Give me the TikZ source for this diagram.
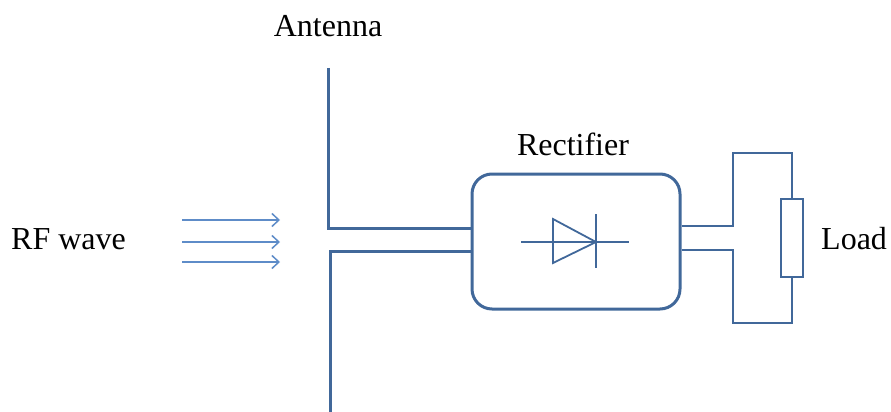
\documentclass[tikz,border=0pt]{standalone}
\usepackage{fontspec}
\setmainfont{Liberation Serif}
\usetikzlibrary{arrows.meta}
\definecolor{wire}{HTML}{41689A}
\definecolor{wave}{HTML}{5E8CC8}
\begin{document}
\begin{tikzpicture}[x=1pt,y=-1pt,
  lbl/.style={font=\fontsize{32}{38}\selectfont, inner sep=0pt},
  thick wire/.style={draw=wire, line width=3pt},
  thin wire/.style={draw=wire, line width=2.2pt},
  diodeline/.style={draw=wire, line width=1.8pt},
  wavearrow/.style={draw=wave, line width=1.5pt, -{Straight Barb[length=7pt,width=13pt,line width=1.5pt]}}]
\useasboundingbox (0,0) rectangle (891,412);
% labels
\node[lbl, anchor=base] (ant) at (328,37) {Antenna};
\node[lbl, anchor=base] (rect) at (573,155) {Rectifier};
\node[lbl, anchor=base west] (rf) at (11,249) {RF wave};
\node[lbl, anchor=base west] (load) at (821,249) {Load};
% rectifier box
\node[draw=wire, line width=3pt, rounded corners=20pt, minimum width=208pt, minimum height=135pt, inner sep=0pt] (box) at (576,241.5) {};
% antenna
\coordinate (a1) at (328,68);
\coordinate (a2) at (328,228);
\coordinate (a3) at (box.west |- 0,228);
\coordinate (b1) at (330,412);
\coordinate (b2) at (330,251);
\coordinate (b3) at (box.west |- 0,251);
\draw[thick wire, line join=miter] (a1) -- (a2) -- (a3);
\draw[thick wire, line join=miter] (b1) -- (b2) -- (b3);
% RF wave arrows
\coordinate (w1s) at (182,220); \coordinate (w1e) at (280,220);
\coordinate (w2s) at (182,242); \coordinate (w2e) at (280,242);
\coordinate (w3s) at (182,262); \coordinate (w3e) at (280,262);
\draw[wavearrow] (w1s) -- (w1e);
\draw[wavearrow] (w2s) -- (w2e);
\draw[wavearrow] (w3s) -- (w3e);
% diode
\coordinate (d1) at (521,242);
\coordinate (d2) at (629,242);
\coordinate (ta) at (553,219);
\coordinate (tb) at (553,263);
\coordinate (tc) at (596,242);
\coordinate (k1) at (596,214);
\coordinate (k2) at (596,268);
\draw[diodeline] (d1) -- (d2);
\draw[diodeline, line join=miter] (ta) -- (tc) -- (tb) -- cycle;
\draw[diodeline] (k1) -- (k2);
% load resistor
\node[draw=wire, line width=2.2pt, minimum width=22pt, minimum height=78pt, inner sep=0pt] (res) at (792,238) {};
\coordinate (o1) at (box.east |- 0,226);
\coordinate (o2) at (733,226);
\coordinate (o3) at (733,153);
\coordinate (o4) at (792,153);
\coordinate (p1) at (box.east |- 0,250);
\coordinate (p2) at (733,250);
\coordinate (p3) at (733,323);
\coordinate (p4) at (792,323);
\draw[thin wire] (o1) -- (o2) -- (o3) -- (o4) -- (res.north);
\draw[thin wire] (p1) -- (p2) -- (p3) -- (p4) -- (res.south);
\end{tikzpicture}
\end{document}
